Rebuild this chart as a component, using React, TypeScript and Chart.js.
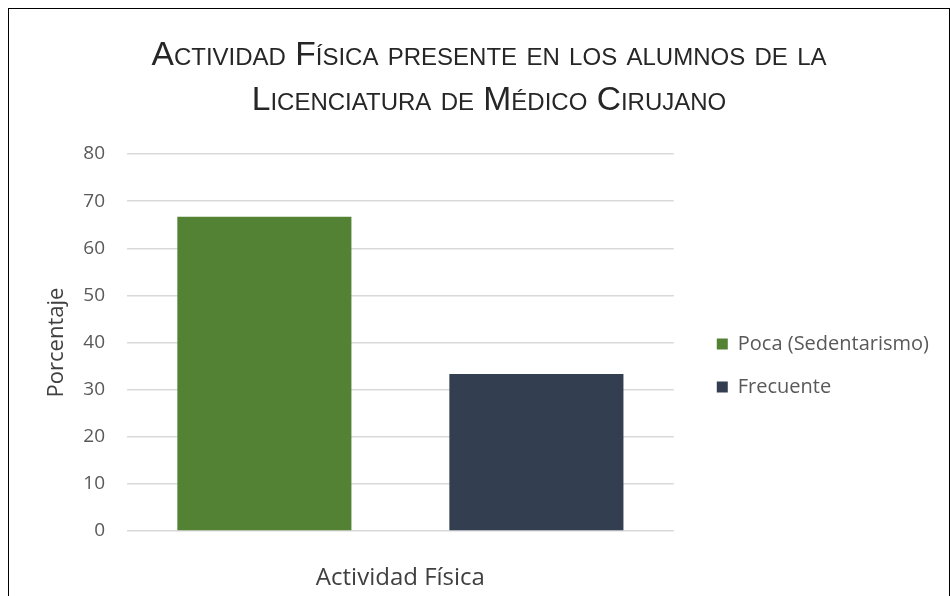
import { useEffect, useRef } from 'react';
import { Chart, registerables } from 'chart.js';

Chart.register(...registerables);

const categories = ['Actividad Física'];
const seriesLabels = ['Poca (Sedentarismo)', 'Frecuente'];
const seriesValues = [[66.7], [33.3]];
const seriesColors = ['#548235', '#333f50'];
const yTicks = [0, 10, 20, 30, 40, 50, 60, 70, 80];
const titleLines = ['Actividad Física presente en los alumnos de la', 'Licenciatura de Médico Cirujano'];
const yTitle = 'Porcentaje';

export default function App() {
  const canvasRef = useRef<HTMLCanvasElement | null>(null);

  useEffect(() => {
    if (!canvasRef.current) return;
    const chart = new Chart(canvasRef.current, {
      type: 'bar',
      data: {
        labels: categories,
        datasets: seriesLabels.map((label, i) => ({
          label,
          data: seriesValues[i],
          backgroundColor: seriesColors[i],
          borderWidth: 0,
          categoryPercentage: 0.995,
          barPercentage: 0.64,
        })),
      },
      options: {
        animation: false,
        responsive: false,
        layout: { padding: { left: 30, right: 10, top: 0, bottom: 4 } },
        plugins: {
          title: {
            display: true,
            text: titleLines,
            color: '#262626',
            font: { family: 'Liberation Sans', size: 33.6, weight: 'small-caps' as any, lineHeight: 45 / 33.6 },
            padding: { top: 24, bottom: 31 },
          },
          legend: {
            position: 'right',
            align: 'center',
            maxWidth: 400,
            title: {
              display: true,
              text: '',
              font: { size: 10, lineHeight: 1.2 },
              padding: { top: 118, bottom: 0 },
            },
            labels: {
              boxWidth: 11,
              boxHeight: 11,
              padding: 23,
              color: '#595959',
              font: { family: 'Open Sans', size: 20 },
            },
          },
          tooltip: { enabled: false },
        },
        scales: {
          x: {
            grid: { display: false, drawTicks: false },
            border: { display: false },
            ticks: { color: '#404040', font: { family: 'Open Sans', size: 24 }, padding: 33 },
            afterFit: (s: any) => {
              s.height = 61;
            },
          },
          y: {
            min: yTicks[0],
            max: yTicks[yTicks.length - 1],
            ticks: {
              stepSize: yTicks[1] - yTicks[0],
              padding: 22,
              color: '#595959',
              font: { family: 'Open Sans', size: 19 },
            },
            grid: { color: '#d9d9d9', drawTicks: false, lineWidth: 1.5 },
            border: { display: false },
            title: {
              display: true,
              text: yTitle,
              color: '#404040',
              font: { family: 'Open Sans', size: 22 },
              padding: { top: 5, bottom: 0 },
            },
            afterFit: (s: any) => {
              s.width = 88;
            },
          },
          gap: {
            type: 'linear',
            axis: 'y',
            position: 'right',
            display: true,
            grid: { display: false, drawTicks: false },
            border: { display: false },
            ticks: { display: false },
            afterFit: (s: any) => {
              s.width = 20;
            },
          },
        } as any,
      },
    });
    return () => chart.destroy();
  }, []);

  return (
    <div
      style={{
        position: 'fixed',
        left: 8,
        top: 8,
        width: 940,
        height: 600,
        borderLeft: '1px solid #000',
        borderTop: '1px solid #000',
        borderRight: '1px solid #000',
        background: '#fff',
      }}
    >
      <canvas ref={canvasRef} width={940} height={587} style={{ display: 'block', width: 940, height: 587 }} />
    </div>
  );
}
